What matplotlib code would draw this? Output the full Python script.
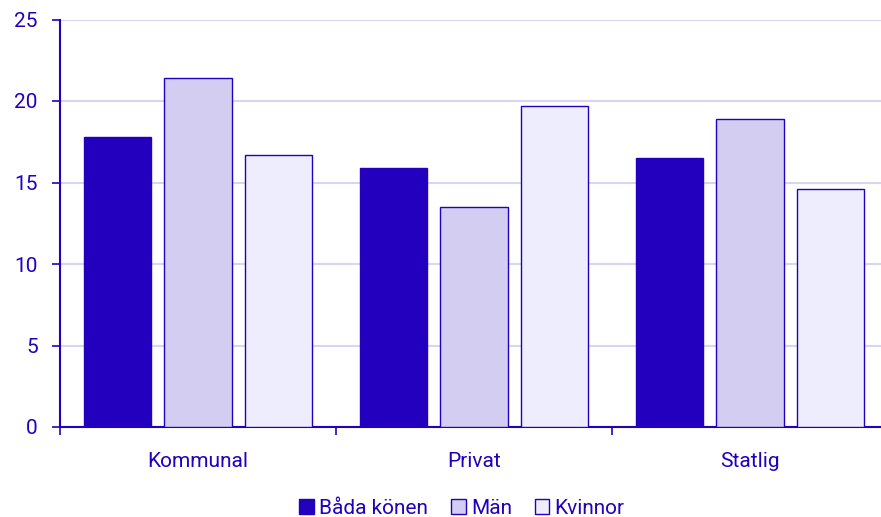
import matplotlib.pyplot as plt
import numpy as np
from matplotlib import rcParams

sectors = ["Kommunal", "Privat", "Statlig"]
series_names = ["Båda könen", "Män", "Kvinnor"]
bada = [17.8, 15.9, 16.5]
man = [21.4, 13.5, 18.9]
kvinnor = [16.7, 19.7, 14.6]

blue = "#2200BE"
fills = [blue, "#D3CEF1", "#EEEDFD"]

rcParams["font.family"] = ["Roboto", "DejaVu Sans"]
rcParams["text.color"] = blue

fig = plt.figure(figsize=(8.81, 5.17), dpi=100)
W, H = 881, 517
ax = fig.add_axes([60 / W, (H - 427) / H, (888 - 60) / W, (427 - 19.5) / H])

x = np.arange(len(sectors))
offset = 0.29
width = 0.243
for i, (vals, name) in enumerate(zip([bada, man, kvinnor], series_names)):
    ax.bar(x + (i - 1) * offset, vals, width, color=fills[i],
           edgecolor=blue, linewidth=1.0, label=name, zorder=3)

ax.set_xlim(-0.5, 2.5)
ax.set_ylim(0, 25)
ax.set_yticks([0, 5, 10, 15, 20, 25])
ax.yaxis.grid(True, color="#D8D5F2", linewidth=1.5, zorder=0)
ax.set_axisbelow(True)

# category boundaries as major ticks, names as minor labels
ax.set_xticks([-0.5, 0.5, 1.5])
ax.set_xticklabels([])
ax.set_xticks(x, minor=True)
ax.set_xticklabels(sectors, minor=True)
ax.tick_params(axis="x", which="minor", length=0, pad=18, labelsize=15, labelcolor=blue)
ax.tick_params(axis="x", which="major", length=6, width=1.2, color=blue)
ax.tick_params(axis="y", length=6, width=1.2, color=blue, labelsize=15,
               labelcolor=blue, pad=10)

for s in ["top", "right"]:
    ax.spines[s].set_visible(False)
for s in ["left", "bottom"]:
    ax.spines[s].set_color(blue)
    ax.spines[s].set_linewidth(1.5)

fig.legend(loc="center", bbox_to_anchor=(462 / W, 1 - 508 / H), ncol=3,
           frameon=False, fontsize=15, handlelength=0.7, handleheight=0.7,
           handletextpad=0.25, columnspacing=1.1)

fig.savefig("out.png", dpi=100)
